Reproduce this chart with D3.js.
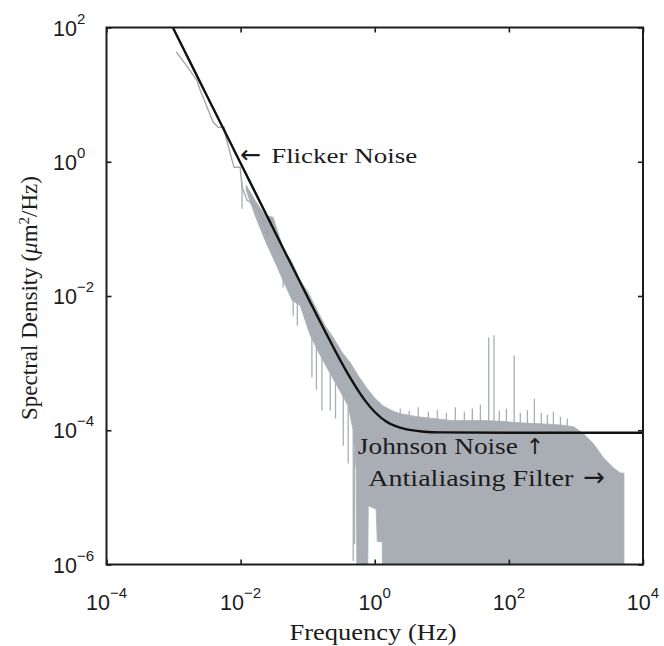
<!DOCTYPE html>
<html>
<head>
<meta charset="utf-8">
<script src="https://cdn.jsdelivr.net/npm/d3@7"></script>
<style>
  body { margin: 0; background: #fff; }
  svg { display: block; }
</style>
</head>
<body>
<svg id="chart" width="664" height="646"></svg>
<script>
// ---- Measured power spectral density (µm²/Hz) ----

// Low-frequency part of the spectrum: sparse bins, drawn as a single trace
const traceFreq = [1.09e-3, 1.54e-3, 2.22e-3, 2.49e-3, 3.89e-3, 4.61e-3, 5.68e-3, 6.08e-3, 7.46e-3, 8.0e-3,
                   9.84e-3, 0.0105, 0.0125, 0.0139, 0.0176, 0.0217, 0.0249, 0.0285, 0.0327, 0.0402];
const traceVal  = [43.5, 27.5, 16.4, 11.7, 3.9, 3.27, 3.27, 2.24, 1.05, 0.83,
                   0.83, 0.416, 0.266, 0.249, 0.202, 0.134, 0.075, 0.144, 0.0567, 0.0402];

// Dense part of the spectrum: upper envelope of the bins
const upperFreq = [0.0121, 0.0164, 0.0232, 0.0305, 0.043, 0.0587, 0.0773, 0.1016, 0.1387, 0.182,
                   0.24, 0.327, 0.43, 0.568, 0.773, 1.02, 1.34, 1.82, 2.4, 4.31,
                   8.0, 13.4, 26.6, 41.6, 74.6, 148, 295, 587, 918, 1294,
                   1824, 2570, 3630, 4613, 5200];
const upperVal  = [0.446, 0.266, 0.159, 0.149, 0.0512, 0.0316, 0.017, 0.0113, 6.1e-3, 3.6e-3,
                   2.4e-3, 1.44e-3, 1.02e-3, 6.5e-4, 4.16e-4, 2.95e-4, 2.3e-4, 1.95e-4, 1.76e-4, 1.59e-4,
                   1.49e-4, 1.4e-4, 1.4e-4, 1.4e-4, 1.36e-4, 1.29e-4, 1.25e-4, 1.2e-4, 1.13e-4, 8.9e-5,
                   6.3e-5, 3.9e-5, 2.75e-5, 2.3e-5, 2.3e-5];

// Dense part of the spectrum: lower envelope of the bins (1e-7 = below the axis)
const lowerFreq = [0.0121, 0.0164, 0.0232, 0.0327, 0.043, 0.0587, 0.0773, 0.109, 0.154, 0.217,
                   0.305, 0.402, 0.478, 0.53, 0.548, 0.773, 0.80, 1.05, 1.09, 1.29,
                   1.34, 5200];
const lowerVal  = [0.376, 0.159, 0.0673, 0.0316, 0.017, 8.6e-3, 7.2e-3, 2.6e-3, 1.3e-3, 7.0e-4,
                   3.8e-4, 2.3e-4, 9.8e-5, 2.5e-5, 1e-7, 1e-7, 7.5e-6, 6.7e-6, 2.2e-6, 2.2e-6,
                   1e-7, 1e-7];

// Isolated deep bins below the band
const dipFreq = [0.0105, 0.043, 0.0608, 0.07, 0.1156, 0.135, 0.163, 0.217, 0.26, 0.339, 0.402, 0.478, 0.50];
const dipHigh = [0.5, 0.02, 8.6e-3, 8.0e-3, 2.4e-3, 1.8e-3, 1.3e-3, 7.0e-4, 5.0e-4, 3.5e-4, 2.3e-4, 1.0e-4, 5e-5];
const dipLow  = [0.2, 0.0134, 5.1e-3, 3.6e-3, 6.1e-4, 4.0e-4, 1.95e-4, 1.95e-4, 1.5e-4, 5.9e-5, 3.2e-5, 1.13e-6, 2.0e-6];

// Line-frequency pickup and other narrow peaks above the white-noise floor
const floorLevel = 1.1e-4;
const spikeFreq = [2.4, 3.27, 4.46, 6.3, 8.6, 11.7, 15.9, 21.7, 28.5, 37.6,
                   50, 60, 72, 92, 120, 148, 189, 240, 305, 376,
                   461, 587, 746];
const spikeTop  = [2.1e-4, 1.95e-4, 2.2e-4, 1.89e-4, 2.0e-4, 1.82e-4, 2.2e-4, 1.89e-4, 2.1e-4, 2.4e-4,
                   2.4e-3, 2.6e-3, 1.95e-4, 2.1e-4, 1.3e-3, 1.82e-4, 2.0e-4, 2.95e-4, 1.82e-4, 1.7e-4,
                   1.89e-4, 1.59e-4, 1.49e-4];

// Fitted noise model: flicker (1/f²) plus Johnson floor
const fitFreq = [9.75e-4, 2e-3, 5e-3, 0.01, 0.02, 0.05, 0.1, 0.2, 0.4, 0.7, 1, 1.5, 2, 3, 5, 10, 100, 1e4];
const fitVal  = [100, 23.8, 3.8, 0.95, 0.238, 0.038, 9.6e-3, 2.47e-3, 6.86e-4, 2.86e-4, 1.87e-4, 1.34e-4,
                 1.16e-4, 1.03e-4, 9.6e-5, 9.3e-5, 9.2e-5, 9.2e-5];

// Axes
const xTickVals = [1e-4, 1e-2, 1, 1e2, 1e4];
const xTickExp  = ["\u22124", "\u22122", "0", "2", "4"];
const yTickVals = [1e-6, 1e-4, 1e-2, 1, 1e2];
const yTickExp  = ["\u22126", "\u22124", "\u22122", "0", "2"];

// ---- Drawing ----
const svg = d3.select("#chart");
const L = 106.5, R = 643, T = 27.5, B = 564.5;
const x = d3.scaleLog().domain([1e-4, 1e4]).range([L, R]);
const y = d3.scaleLog().domain([1e-6, 1e2]).range([B, T]);

const grey = "#a9aeb4";
const ink = "#1c1c1c";
const serif = "'Liberation Serif', 'DejaVu Serif', serif";
const sans = "'Liberation Sans', Arial, sans-serif";
const arrowFont = "'DejaVu Sans', sans-serif";

svg.append("defs").append("clipPath").attr("id", "plotArea")
  .append("rect").attr("x", L).attr("y", T).attr("width", R - L).attr("height", B - T);

const plot = svg.append("g").attr("clip-path", "url(#plotArea)");

// dense band of spectral bins
const upperPts = upperFreq.map((f, i) => [x(f), y(upperVal[i])]);
const lowerPts = lowerFreq.map((f, i) => [x(f), y(lowerVal[i])]).reverse();
plot.append("path")
  .attr("d", d3.line()(upperPts.concat(lowerPts)) + "Z")
  .attr("fill", grey)
  .attr("stroke", grey)
  .attr("stroke-width", 0.8);

// deep dips
plot.selectAll("line.dip").data(dipFreq).join("line")
  .attr("class", "dip")
  .attr("x1", d => x(d)).attr("x2", d => x(d))
  .attr("y1", (d, i) => y(dipHigh[i])).attr("y2", (d, i) => y(dipLow[i]))
  .attr("stroke", grey).attr("stroke-width", 1.3);

// narrow peaks
plot.selectAll("line.spike").data(spikeFreq).join("line")
  .attr("class", "spike")
  .attr("x1", d => x(d)).attr("x2", d => x(d))
  .attr("y1", y(floorLevel)).attr("y2", (d, i) => y(spikeTop[i]))
  .attr("stroke", grey).attr("stroke-width", 1.3);

// sparse low-frequency trace
plot.append("path")
  .attr("d", d3.line().x((f) => x(f)).y((f, i) => y(traceVal[i]))(traceFreq))
  .attr("fill", "none")
  .attr("stroke", "#a3a8ae")
  .attr("stroke-width", 1.4);

// fitted model
plot.append("path")
  .attr("d", d3.line().x(f => x(f)).y((f, i) => y(fitVal[i])).curve(d3.curveMonotoneX)(fitFreq))
  .attr("fill", "none")
  .attr("stroke", "#111")
  .attr("stroke-width", 2.4);

// frame and inward ticks on all four sides
function styleAxis(g) {
  g.select(".domain").remove();
  g.selectAll(".tick line").attr("stroke", ink).attr("stroke-width", 1.6);
  g.selectAll(".tick text").remove();
}
svg.append("g").attr("transform", `translate(0,${B})`)
  .call(d3.axisBottom(x).tickValues(xTickVals).tickSize(-5)).call(styleAxis);
svg.append("g").attr("transform", `translate(0,${T})`)
  .call(d3.axisTop(x).tickValues(xTickVals).tickSize(-5)).call(styleAxis);
svg.append("g").attr("transform", `translate(${L},0)`)
  .call(d3.axisLeft(y).tickValues(yTickVals).tickSize(-5)).call(styleAxis);
svg.append("g").attr("transform", `translate(${R},0)`)
  .call(d3.axisRight(y).tickValues(yTickVals).tickSize(-5)).call(styleAxis);

svg.append("rect")
  .attr("x", L).attr("y", T).attr("width", R - L).attr("height", B - T)
  .attr("fill", "none").attr("stroke", ink).attr("stroke-width", 2);

// tick labels: 10 with superscript exponent
const xl = svg.append("g").attr("font-family", sans).attr("fill", ink);
xTickVals.forEach((v, i) => {
  const t = xl.append("text").attr("x", x(v)).attr("y", 610)
    .attr("text-anchor", "middle").attr("font-size", 21.5);
  t.append("tspan").text("10");
  t.append("tspan").attr("dy", -12).attr("font-size", 15).text(xTickExp[i]);
});
const yl = svg.append("g").attr("font-family", sans).attr("fill", ink);
yTickVals.forEach((v, i) => {
  const t = yl.append("text").attr("x", 53).attr("y", y(v) + 8)
    .attr("font-size", 21.5);
  t.append("tspan").text("10");
  t.append("tspan").attr("dy", -12).attr("font-size", 15).text(yTickExp[i]);
});

// axis titles
svg.append("text")
  .attr("x", 373).attr("y", 640)
  .attr("text-anchor", "middle")
  .attr("font-family", serif).attr("font-size", 23).attr("fill", ink)
  .attr("textLength", 167).attr("lengthAdjust", "spacingAndGlyphs")
  .text("Frequency (Hz)");

const yt = svg.append("text")
  .attr("transform", "translate(37,298) rotate(-90)")
  .attr("text-anchor", "middle")
  .attr("font-family", serif).attr("font-size", 23).attr("fill", ink);
yt.append("tspan").text("Spectral Density (");
yt.append("tspan").attr("font-style", "italic").text("\u03bc");
yt.append("tspan").text("m");
yt.append("tspan").attr("dy", -8).attr("font-size", 15).text("2");
yt.append("tspan").attr("dy", 8).text("/Hz)");

// annotations: words plus a pointing arrow
const notes = [
  { words: "Flicker Noise", f: 9.84e-3, v: 0.95, size: 21, len: 146, wordsDx: 31,
    arrow: "\u2190", arrowDx: 0, arrowSize: 25 },
  { words: "Johnson Noise", f: 0.56, v: 4.5e-5, size: 24, len: 160, wordsDx: 0,
    arrow: "\u2191", arrowDx: 168, arrowSize: 22 },
  { words: "Antialiasing Filter", f: 0.80, v: 1.5e-5, size: 24, len: 205, wordsDx: 0,
    arrow: "\u2192", arrowDx: 215, arrowSize: 26 }
];
const ann = svg.append("g").attr("fill", ink);
ann.selectAll("text.words").data(notes).join("text")
  .attr("class", "words")
  .attr("x", d => x(d.f) + d.wordsDx).attr("y", d => y(d.v))
  .attr("font-family", serif).attr("font-size", d => d.size)
  .attr("textLength", d => d.len).attr("lengthAdjust", "spacingAndGlyphs")
  .text(d => d.words);
ann.selectAll("text.arrow").data(notes).join("text")
  .attr("class", "arrow")
  .attr("x", d => x(d.f) + d.arrowDx).attr("y", d => y(d.v))
  .attr("font-family", arrowFont).attr("font-size", d => d.arrowSize)
  .text(d => d.arrow);
</script>
</body>
</html>
